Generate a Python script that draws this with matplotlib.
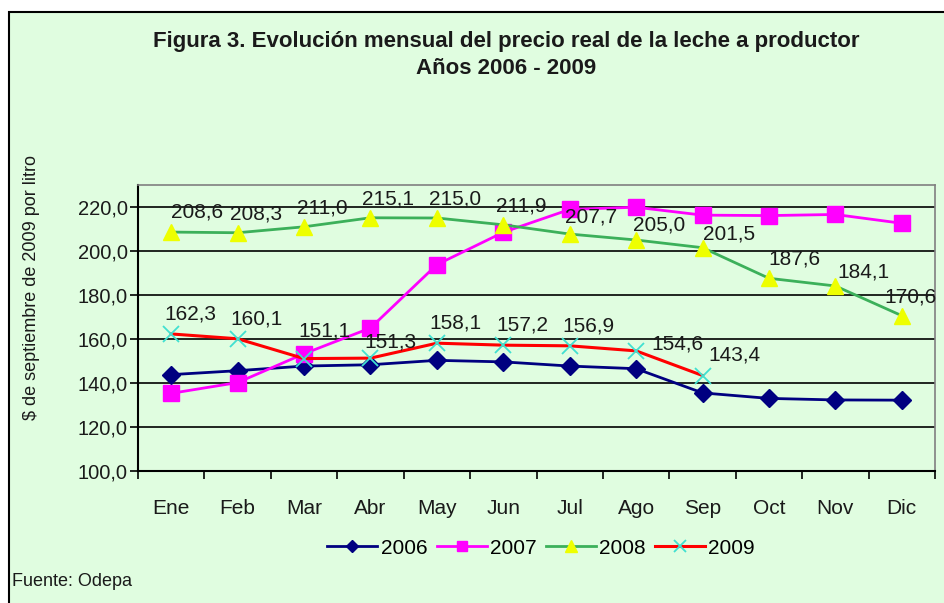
import matplotlib
matplotlib.use("Agg")
import matplotlib.pyplot as plt
from matplotlib.patches import Rectangle

plt.rcParams["font.family"] = ["Liberation Sans", "DejaVu Sans"]

meses = ["Ene", "Feb", "Mar", "Abr", "May", "Jun", "Jul", "Ago", "Sep", "Oct", "Nov", "Dic"]
p2006 = [143.8, 145.6, 147.7, 148.3, 150.3, 149.6, 147.7, 146.5, 135.5, 133.0, 132.3, 132.2]
p2007 = [135.3, 140.2, 153.3, 165.0, 193.8, 208.5, 218.9, 219.9, 216.3, 216.1, 216.6, 212.6]
p2008 = [208.6, 208.3, 211.0, 215.1, 215.0, 211.9, 207.7, 205.0, 201.5, 187.6, 184.1, 170.6]
p2009 = [162.3, 160.1, 151.1, 151.3, 158.1, 157.2, 156.9, 154.6, 143.4]

bg = "#e0fde0"
x = list(range(len(meses)))

fig = plt.figure(figsize=(9.45, 6.03), dpi=100)
fig.patch.set_facecolor("white")
fig.patches.append(Rectangle((9 / 945, -0.1), 1.2, (603 - 12) / 603 + 0.1,
                             transform=fig.transFigure, facecolor=bg,
                             edgecolor="black", lw=1.5, zorder=-10))

ax = fig.add_axes([138 / 945, 1 - 471 / 603, (935 - 138) / 945, (471 - 185) / 603])
ax.set_facecolor(bg)

ax.plot(x, p2006, color="#000080", lw=2, marker="D", ms=9, label="2006", zorder=3)
ax.plot(x, p2007, color="#ff00ff", lw=2, marker="s", ms=11, label="2007", zorder=3)
ax.plot(x, p2008, color="#3cb05a", lw=2, marker="^", ms=12, mfc="#eeff00", mec="#eeff00",
        label="2008", zorder=4)
ax.plot(x[:len(p2009)], p2009, color="#ff0000", lw=2.2, marker="x", ms=12, mec="#40e0d0",
        mew=1.3, label="2009", zorder=5)

# etiquetas de datos 2008 y 2009 (desplazamiento en pixeles)
offs_2008 = {0: (26, 20), 9: (25, 19), 10: (28, 14), 11: (9, 19), 6: (21, 17), 7: (23, 15), 8: (27, 14)}
offs_2009 = {2: (20, 28), 3: (20, 16), 7: (41, 7), 8: (32, 21)}
for i, v in enumerate(p2008):
    dx, dy = offs_2008.get(i, (18, 19))
    ax.annotate(f"{v:.1f}".replace(".", ","), (i, v), xytext=(dx, dy),
                textcoords="offset pixels", ha="center", va="center",
                fontsize=15, color="#1a1a1a", zorder=6)
for i, v in enumerate(p2009):
    dx, dy = offs_2009.get(i, (19, 20))
    ax.annotate(f"{v:.1f}".replace(".", ","), (i, v), xytext=(dx, dy),
                textcoords="offset pixels", ha="center", va="center",
                fontsize=15, color="#1a1a1a", zorder=6)

ax.set_xlim(-0.5, len(meses) - 0.5)
ax.set_ylim(100, 230)
ax.set_yticks(range(100, 221, 20))
ax.set_yticklabels([f"{t},0" for t in range(100, 221, 20)], fontsize=14.5, color="#1a1a1a")
ax.yaxis.grid(True, color="black", lw=1.2)
ax.set_axisbelow(True)
ax.set_xticks(x)
ax.set_xticklabels(meses, fontsize=15, color="#1a1a1a")
ax.set_xticks([i - 0.5 for i in range(len(meses) + 1)], minor=True)
ax.tick_params(axis="x", which="major", length=0, pad=20)
ax.tick_params(axis="x", which="minor", length=6, width=1.2, direction="out")
ax.tick_params(axis="y", length=6, width=1.2, direction="out", pad=1.5)

for s in ["left", "bottom"]:
    ax.spines[s].set_color("black")
    ax.spines[s].set_linewidth(1.5)
for s in ["top", "right"]:
    ax.spines[s].set_color("#808080")
    ax.spines[s].set_linewidth(1.2)

ax.set_ylabel("$ de septiembre de 2009 por litro", fontsize=13, color="#1a1a1a")
ax.yaxis.set_label_coords(-0.123, 0.64)

fig.text(506 / 945, 1 - 42 / 603, "Figura 3. Evolución mensual del precio real de la leche a productor",
         ha="center", va="center", fontsize=16, weight="bold", color="#1a1a1a")
fig.text(506 / 945, 1 - 68 / 603, "Años 2006 - 2009",
         ha="center", va="center", fontsize=16, weight="bold", color="#1a1a1a")

fig.legend(loc="center", bbox_to_anchor=(541 / 945, 1 - 548 / 603), ncol=4, frameon=False,
           fontsize=15, handlelength=2.4, handletextpad=0.15, columnspacing=0.45,
           markerscale=0.7)

fig.text(12 / 945, 1 - 582 / 603, "Fuente: Odepa", ha="left", va="center", fontsize=13,
         color="#1a1a1a")

fig.savefig("out.png", dpi=100, facecolor=fig.get_facecolor())
